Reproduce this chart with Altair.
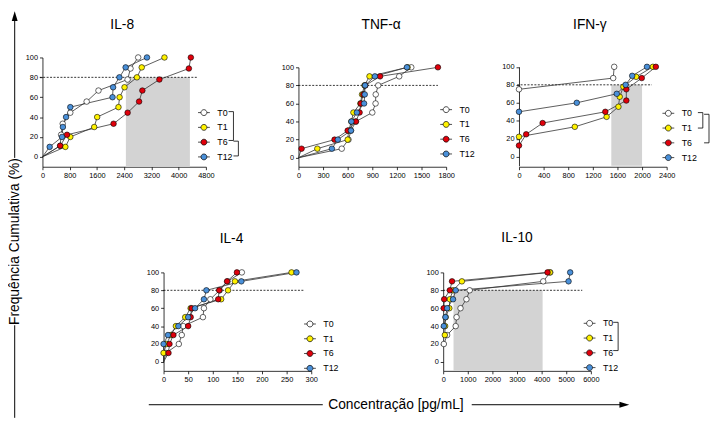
import altair as alt
import pandas as pd

FONT = "Liberation Sans"
SERIES = ["T0", "T1", "T6", "T12"]
COLORS = ["#FFFFFF", "#FFF200", "#E0000B", "#4A90D9"]

# ---------------- IL-8 ----------------
IL8_Y9 = [11.1, 22.2, 33.3, 44.4, 55.6, 66.7, 77.8, 88.9, 100]
IL8_Y10 = [10, 20, 30, 40, 50, 60, 70, 80, 90, 100]
IL8_T0 = [520, 548, 595, 817, 1298, 1645, 2500, 2586, 2811]
IL8_T1 = [673, 818, 1520, 1607, 2232, 2265, 2410, 2775, 2915, 3583]
IL8_T6 = [520, 721, 2088, 2501, 2838, 2934, 3434, 4300, 4358]
IL8_T12 = [212, 575, 600, 693, 818, 2058, 2075, 2260, 2443, 3069]
IL8_SHADE = [2450, 4330]
IL8_DASH = [-80, 4550]

# ---------------- TNF-alpha ----------------
TNF_Y = [10, 20, 30, 40, 50, 60, 70, 80, 90, 100]
TNF_T0 = [528, 610, 640, 700, 900, 940, 942, 972, 1228, 1375]
TNF_T1 = [230, 600, 612, 645, 670, 755, 775, 805, 866, 1330]
TNF_T6 = [38, 440, 600, 700, 745, 760, 790, 815, 995, 1700]
TNF_T12 = [408, 480, 640, 645, 712, 800, 808, 812, 932, 1322]
TNF_DASH = [0, 1700]

# ---------------- IFN-gamma ----------------
IFN_T0_X = [0, 1531, 1547]
IFN_T0_Y = [75, 87.5, 100]
IFN_T1_X = [0, 907, 1424, 1616, 1637, 1696, 1904, 2176]
IFN_T1_Y = [22.2, 33.3, 44.4, 55.6, 66.7, 77.8, 88.9, 100]
IFN_T6_X = [0, 117, 384, 1403, 1744, 1744, 1995, 2224]
IFN_T6_Y = [12.5, 25, 37.5, 50, 62.5, 75, 87.5, 100]
IFN_T12_X = [0, 939, 1589, 1733, 1840, 2080]
IFN_T12_Y = [50, 60, 70, 80, 90, 100]
IFN_SHADE = [1500, 2000]
IFN_DASH = [-30, 2160]

# ---------------- IL-4 ----------------
IL4_Y = [10, 20, 30, 40, 50, 60, 70, 80, 90, 100]
IL4_T0 = [5, 31, 37, 40, 80, 82, 95, 114, 130, 159]
IL4_T1 = [0, 6, 15, 25, 44, 55, 117, 131, 145, 260]
IL4_T6 = [10, 12, 20, 50, 55, 57, 111, 113, 129, 149]
IL4_T12_X = [0, 9, 30, 50, 64, 82, 87, 158, 270]
IL4_T12_Y = [20, 30, 40, 50, 60, 70, 80, 90, 100]
IL4_DASH = [0, 285]

# ---------------- IL-10 ----------------
IL10_T0_X = [27, 160, 508, 544, 704, 944, 1077, 4064, 4350]
IL10_T0_Y = [20, 30, 40, 50, 60, 70, 80, 90, 100]
IL10_T1_X = [67, 80, 100, 250, 270, 400, 760, 4333]
IL10_T1_Y = [30, 40, 50, 60, 70, 80, 90, 100]
IL10_T6_X = [20, 40, 270, 360, 4240]
IL10_T6_Y = [60, 70, 80, 90, 100]
IL10_T12_X = [27, 93, 160, 400, 507, 5093, 5160]
IL10_T12_Y = [40, 50, 60, 70, 80, 90, 100]
IL10_SHADE = [420, 4040]
IL10_DASH = [0, 5650]

ONE = pd.DataFrame({"k": [0]})
LEG_PATH = "M-2,0L-1,0M1,0L2,0M-1,0A1,1,0,1,0,1,0A1,1,0,1,0,-1,0Z"


def seg(x1, y1, x2, y2, w=0.8):
    return alt.Chart(ONE).mark_rule(color="black", strokeWidth=w).encode(
        x=alt.value(x1), y=alt.value(y1), x2=alt.value(x2), y2=alt.value(y2))


def bracket(bx, y1, y2):
    return [seg(bx, y1, bx, y2), seg(bx - 5, y1, bx, y1), seg(bx - 5, y2, bx, y2)]


def panel(title, series_xy, origin, xmax, xstep, cell_w, plot_w, height, y_range,
          shade, dash, leg, brackets, title_dx=0, title_off=24, extras=()):
    rows = []
    for s, (xs, ys) in zip(SERIES, series_xy):
        pts = list(zip(xs, ys))
        marks = [True] * len(pts)
        if origin:
            pts = [(0, 0)] + pts
            marks = [False] + marks
        for i, ((x, y), m) in enumerate(zip(pts, marks)):
            rows.append({"series": s, "x": x, "y": y, "idx": i, "marker": m,
                         "sord": SERIES.index(s)})
    df = pd.DataFrame(rows).sort_values(["sord", "idx"])

    xscale = alt.Scale(domain=[0, xmax], nice=False, zero=False, range=[0, plot_w])
    ykw = dict(domain=[-10, 100], nice=False, zero=False)
    if y_range is not None:
        ykw["range"] = y_range
    yscale = alt.Scale(**ykw)
    xaxis = alt.Axis(values=list(range(0, xmax + 1, xstep)), format="d", title=None,
                     labelFlush=False, labelOverlap=False)
    yaxis = alt.Axis(values=[0, 20, 40, 60, 80, 100], format="d", title=None)

    layers = []
    if shade is not None:
        sdf = pd.DataFrame({"x0": [shade[0]], "x1": [shade[1]], "y0": [-10], "y1": [80]})
        layers.append(alt.Chart(sdf).mark_rect(color="#D3D3D3").encode(
            x=alt.X("x0:Q", scale=xscale, axis=xaxis), x2="x1:Q",
            y=alt.Y("y0:Q", scale=yscale, axis=yaxis), y2="y1:Q"))
    ddf = pd.DataFrame({"x0": [dash[0]], "x1": [dash[1]], "y": [80]})
    layers.append(alt.Chart(ddf).mark_rule(color="black", strokeWidth=0.8,
                                            strokeDash=[2, 1.5]).encode(
        x=alt.X("x0:Q", scale=xscale, axis=xaxis), x2="x1:Q",
        y=alt.Y("y:Q", scale=yscale, axis=yaxis)))
    layers.append(alt.Chart(df).mark_line(color="#333333", strokeWidth=0.8).encode(
        x=alt.X("x:Q", scale=xscale, axis=xaxis),
        y=alt.Y("y:Q", scale=yscale, axis=yaxis),
        detail="series:N", order="idx:Q"))
    layers.append(alt.Chart(df).transform_filter("datum.marker").mark_point(
        filled=True, size=32, shape="circle", stroke="black", strokeWidth=0.6,
        opacity=1).encode(
        x=alt.X("x:Q", scale=xscale, axis=xaxis),
        y=alt.Y("y:Q", scale=yscale, axis=yaxis),
        fill=alt.Fill("series:N", scale=alt.Scale(domain=SERIES, range=COLORS),
                      legend=alt.Legend(orient="none", legendX=leg[0] - 3.5,
                                        legendY=leg[1] - 4.5, title=None,
                                        symbolType=LEG_PATH, symbolSize=36,
                                        symbolStrokeColor="black",
                                        symbolStrokeWidth=0.7, labelFont=FONT,
                                        labelFontSize=9, labelOffset=9,
                                        rowPadding=5, padding=0, symbolOffset=0,
                                        labelColor="black"))))
    for b in brackets:
        layers.extend(bracket(*b))
    layers.extend(extras)
    dx = (plot_w - cell_w) / 2 + title_dx
    return alt.layer(*layers).properties(
        width=cell_w, height=height,
        title=alt.TitleParams(title, fontSize=14, fontWeight="normal", font=FONT,
                              offset=title_off, dx=dx, color="black",
                              frame="group"))


def spacer(extras=()):
    base = alt.Chart(ONE).mark_point(opacity=0).encode(
        x=alt.value(0), y=alt.value(0))
    return alt.layer(base, *extras).properties(width=1, height=1)


# global y label, drawn in the untitled cell under IL-8
# (coordinates relative to that cell: x = page - 42.7, y = page - 273.3)
ylab_extras = [
    alt.Chart(ONE).mark_text(angle=270, fontSize=14, font=FONT, align="center",
                             baseline="middle", color="black",
                             text="Frequência Cumulativa (%)").encode(
        x=alt.value(-27.7), y=alt.value(-31.3)),
    seg(-28.2, -256, -28.2, -116.3, 1),
    seg(-28.2, 53.7, -28.2, 147.7, 1),
    alt.Chart(ONE).mark_point(shape="M0,-1L0.6,1L-0.6,1Z", size=100, filled=True,
                              color="black", opacity=1).encode(
        x=alt.value(-28.2), y=alt.value(-260.3)),
]
# global x label (drawn in IL-4 panel)
xlab_extras = [
    alt.Chart(ONE).mark_text(fontSize=14, font=FONT, align="center",
                             baseline="middle", color="black",
                             text="Concentração [pg/mL]").encode(
        x=alt.value(236), y=alt.value(134.4)),
    seg(-15, 134.4, 161.7, 134.4, 1),
    seg(313, 134.4, 465, 134.4, 1),
    alt.Chart(ONE).mark_point(shape="M1,0L-1,-0.6L-1,0.6Z", size=100, filled=True,
                              color="black", opacity=1).encode(
        x=alt.value(468), y=alt.value(134.4)),
]

# grid column starts (relative to IL-8 plot): 0, 122.3, 259, 405.6, 482.3
il8 = panel("IL-8", [(IL8_T0, IL8_Y9), (IL8_T1, IL8_Y10), (IL8_T6, IL8_Y9),
                     (IL8_T12, IL8_Y10)],
            True, 4800, 800, 122.3, 166, 111, None, IL8_SHADE, IL8_DASH, (163, 56),
            [(194, 55, 84.3), (199, 85, 100)], title_dx=-2, title_off=22)
tnf = panel("TNF-α", [(TNF_T0, TNF_Y), (TNF_T1, TNF_Y), (TNF_T6, TNF_Y),
                      (TNF_T12, TNF_Y)],
            True, 1800, 300, 146.6, 150, 111, [111, 10], None, TNF_DASH, (149, 53),
            [], title_dx=9, title_off=26)
ifn = panel("IFN-γ", [(IFN_T0_X, IFN_T0_Y), (IFN_T1_X, IFN_T1_Y),
                      (IFN_T6_X, IFN_T6_Y), (IFN_T12_X, IFN_T12_Y)],
            False, 2400, 400, 150, 150, 111, [110, 9.5], IFN_SHADE, IFN_DASH,
            (150.7, 56.7), [(186.7, 56, 71.7), (193, 57.7, 86.7)], title_dx=-3,
            title_off=26)
il4 = panel("IL-4", [(IL4_T0, IL4_Y), (IL4_T1, IL4_Y), (IL4_T6, IL4_Y),
                     (IL4_T12_X, IL4_T12_Y)],
            True, 300, 50, 136.7, 150, 100, None, None, IL4_DASH, (147.7, 52.4),
            [], title_dx=-6, title_off=23, extras=xlab_extras)
il10 = panel("IL-10", [(IL10_T0_X, IL10_T0_Y), (IL10_T1_X, IL10_T1_Y),
                       (IL10_T6_X, IL10_T6_Y), (IL10_T12_X, IL10_T12_Y)],
             False, 6000, 1000, 76.7, 150, 100, None, IL10_SHADE, IL10_DASH,
             (147.7, 51.7), [(177.7, 50.7, 79.4)], title_dx=0, title_off=24)

chart = alt.concat(
    il8, spacer(), tnf, spacer(), ifn,
    spacer(ylab_extras), il4, spacer(), il10, spacer(),
    columns=5, spacing={"row": 107.3, "column": 0}, align="each", bounds="flush",
).resolve_scale(x="independent", y="independent", fill="independent").resolve_legend(
    fill="independent").properties(
    padding={"left": 0, "top": 0, "right": 0, "bottom": 0}
).configure_view(stroke=None).configure_axis(
    labelFont=FONT, labelFontSize=7.5, labelColor="black", tickSize=3,
    domainColor="black", tickColor="black", domainWidth=0.8, tickWidth=0.8,
    grid=False, labelPadding=2)

chart.save("out.html", embed_options={"renderer": "svg", "actions": False})
